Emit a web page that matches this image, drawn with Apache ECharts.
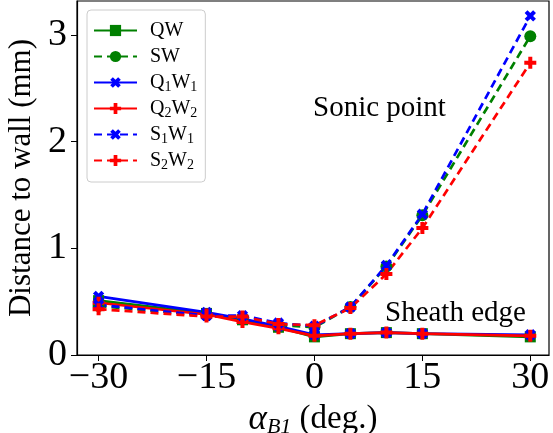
<!DOCTYPE html>
<html><head><meta charset="utf-8">
<script src="https://cdn.jsdelivr.net/npm/echarts@6/dist/echarts.min.js"></script>
<style>html,body{margin:0;padding:0;background:#fff}#c{width:553px;height:433px}</style>
</head><body><div id="c"></div>
<script>
const angles = [-30, -15, -10, -5, 0, 5, 10, 15, 30];
const QW   = [0.51, 0.39, 0.33, 0.26, 0.17, 0.20, 0.21, 0.20, 0.17];
const SW   = [0.46, 0.37, 0.35, 0.28, 0.26, 0.45, 0.83, 1.31, 2.99];
const Q1W1 = [0.55, 0.40, 0.34, 0.27, 0.19, 0.20, 0.21, 0.20, 0.19];
const Q2W2 = [0.49, 0.38, 0.31, 0.25, 0.18, 0.20, 0.21, 0.20, 0.18];
const S1W1 = [0.47, 0.37, 0.37, 0.30, 0.27, 0.45, 0.84, 1.32, 3.18];
const S2W2 = [0.43, 0.36, 0.36, 0.29, 0.28, 0.44, 0.76, 1.19, 2.74];
const xTicks = [-30, -15, 0, 15, 30];
const yTicks = [0, 1, 2, 3];

const FONT = 'Liberation Serif';
const PLUS = 'path://M-1,-3L1,-3L1,-1L3,-1L3,1L1,1L1,3L-1,3L-1,1L-3,1L-3,-1L-1,-1Z';
const GREEN = '#008000', BLUE = '#0000ff', RED = '#ff0000';

function mk(name, vals, color, dashed, symbol, rot, size) {
  return {
    name, type: 'line', data: angles.map((a, i) => [a, vals[i]]),
    symbol, symbolSize: size, symbolRotate: rot || 0, showSymbol: true,
    lineStyle: { color, width: 2.7, type: dashed ? [8, 5] : 'solid' },
    itemStyle: { color, borderWidth: 0 },
    emphasis: { disabled: true }, animation: false
  };
}

const legendRich = {
  n: { fontFamily: FONT, fontSize: 20, color: '#000', lineHeight: 14 },
  s: { fontFamily: FONT, fontSize: 14, color: '#000', lineHeight: 14, padding: [9, 0, 0, 0] }
};
function legendFmt(name) {
  const m = name.match(/^([QS])(\d)W(\d)$/);
  if (m) return '{n|' + m[1] + '}{s|' + m[2] + '}{n|W}{s|' + m[3] + '}';
  return '{n|' + name + '}{s| }';
}

const chart = echarts.init(document.getElementById('c'), null, { renderer: 'canvas' });
chart.setOption({
  animation: false,
  grid: { left: 77, right: 4, top: 1, bottom: 78, show: true, borderColor: '#000', borderWidth: 1.2,
          backgroundColor: 'transparent', outerBoundsMode: 'none', containLabel: false },
  xAxis: {
    type: 'value', min: -33, max: 32.6,
    axisLine: { show: true, onZero: false, lineStyle: { color: '#000', width: 1.2 } },
    axisTick: { show: true, length: 6, lineStyle: { color: '#000', width: 1 }, customValues: xTicks },
    axisLabel: { customValues: xTicks, color: '#000', fontFamily: FONT, fontSize: 38, margin: 4,
      formatter: v => (v < 0 ? '\u2212' + Math.abs(v) : String(v)) },
    splitLine: { show: false },
    name: '{a|\u03b1}{s|B1}{n| (deg.)}', nameLocation: 'middle', nameGap: 31,
    nameTextStyle: { color: '#000', fontFamily: FONT, fontSize: 33,
      rich: { a: { fontFamily: FONT, fontStyle: 'italic', fontSize: 35, color: '#000' },
              n: { fontFamily: FONT, fontSize: 33, color: '#000' },
              s: { fontFamily: FONT, fontStyle: 'italic', fontSize: 22, color: '#000', padding: [16, 0, 0, 0] } } }
  },
  yAxis: {
    type: 'value', min: 0, max: 3.32,
    axisLine: { show: true, onZero: false, lineStyle: { color: '#000', width: 1.2 } },
    axisTick: { show: true, length: 6, lineStyle: { color: '#000', width: 1 }, customValues: yTicks },
    axisLabel: { customValues: yTicks, color: '#000', fontFamily: FONT, fontSize: 38, margin: 10 },
    splitLine: { show: false },
    name: 'Distance to wall (mm)', nameLocation: 'middle', nameGap: 39, nameRotate: 90,
    nameTextStyle: { color: '#000', fontFamily: FONT, fontSize: 31 }
  },
  legend: {
    left: 87, top: 10, orient: 'vertical',
    data: ['QW', 'SW', 'Q1W1', 'Q2W2', 'S1W1', 'S2W2'],
    formatter: legendFmt,
    backgroundColor: '#fff', borderColor: '#cccccc', borderWidth: 1, borderRadius: 4,
    padding: [9, 8, 10, 6], itemWidth: 43, itemHeight: 14, itemGap: 3,
    textStyle: { color: '#000', fontFamily: FONT, fontSize: 20, lineHeight: 14, padding: [0, 0, 0, 8], rich: legendRich }
  },
  graphic: [
    { type: 'text', left: 313, top: 94, style: { text: 'Sonic point', fontFamily: FONT, fontSize: 29, fill: '#000' } },
    { type: 'text', left: 385, top: 299, style: { text: 'Sheath edge', fontFamily: FONT, fontSize: 29, fill: '#000' } }
  ],
  series: [
    mk('QW', QW, GREEN, false, 'rect', 0, 11),
    mk('SW', SW, GREEN, true, 'circle', 0, 12),
    mk('Q1W1', Q1W1, BLUE, false, PLUS, 45, 12),
    mk('Q2W2', Q2W2, RED, false, PLUS, 0, 12),
    mk('S1W1', S1W1, BLUE, true, PLUS, 45, 12),
    mk('S2W2', S2W2, RED, true, PLUS, 0, 12)
  ]
});
</script></body></html>
